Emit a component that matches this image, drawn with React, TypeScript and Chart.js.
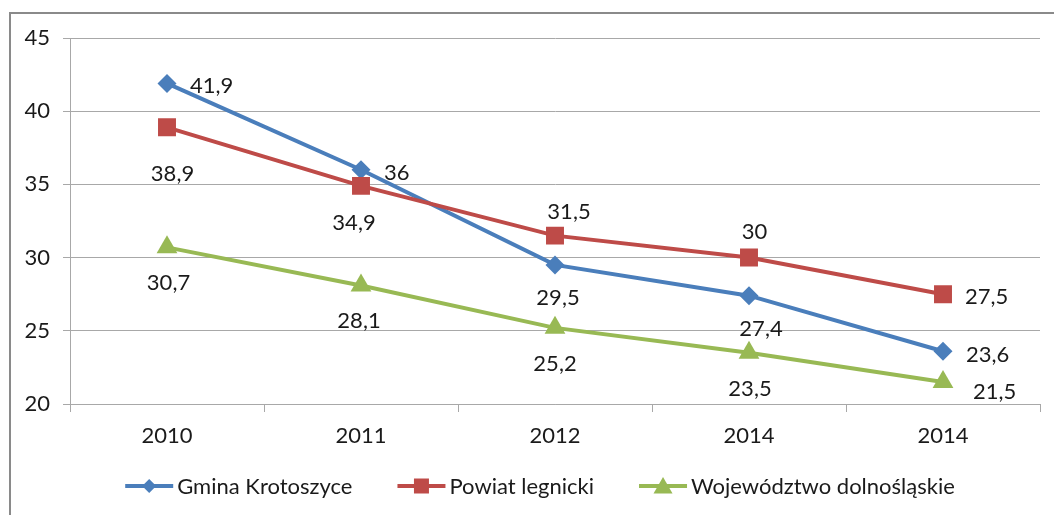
import React, { useEffect, useRef } from 'react';
import { Chart, registerables } from 'chart.js';

Chart.register(...registerables);

// ---- data ----
const categories = ['2010', '2011', '2012', '2014', '2014'];
const gminaKrotoszyce = [41.9, 36, 29.5, 27.4, 23.6];
const powiatLegnicki = [38.9, 34.9, 31.5, 30, 27.5];
const wojewodztwoDolnoslaskie = [30.7, 28.1, 25.2, 23.5, 21.5];
const seriesNames = ['Gmina Krotoszyce', 'Powiat legnicki', 'Województwo dolnośląskie'];
const yMin = 20;
const yMax = 45;
const yStep = 5;

// ---- label placement (offset from the point: [dx, dy, align]) ----
type Place = [number, number, 'left' | 'center'];
const labelPlacement: Place[][] = [
  [[23, 2, 'left'], [23, 2.5, 'left'], [3, 32, 'center'], [12, 32, 'center'], [23, 3, 'left']],
  [[5.5, 45.5, 'center'], [-7, 36.5, 'center'], [14, -25, 'center'], [5.5, -27, 'center'], [22, 2, 'left']],
  [[1.5, 35, 'center'], [-2, 35, 'center'], [0, 35, 'center'], [1, 35, 'center'], [30, 9.5, 'left']],
];

const FONT = 'Lato, "DejaVu Sans", sans-serif';
const FONT_SIZE = 22;
const TEXT = '#1a1a1a';
const GRID = '#a8a8a8';
const COLORS = ['#4A7EBB', '#BE4B48', '#98B954'];
const STYLES = ['rectRot', 'rect', 'triangle'];

function drawMarker(ctx: CanvasRenderingContext2D, style: string, x: number, y: number, r: number, color: string) {
  ctx.save();
  ctx.fillStyle = color;
  ctx.beginPath();
  if (style === 'rectRot') {
    ctx.moveTo(x - r, y);
    ctx.lineTo(x, y - r);
    ctx.lineTo(x + r, y);
    ctx.lineTo(x, y + r);
  } else if (style === 'rect') {
    ctx.rect(x - r, y - r, 2 * r, 2 * r);
  } else {
    const h = r * Math.sqrt(3);
    ctx.moveTo(x, y - h * 0.55);
    ctx.lineTo(x + r, y + h * 0.45);
    ctx.lineTo(x - r, y + h * 0.45);
  }
  ctx.closePath();
  ctx.fill();
  ctx.restore();
}

export default function App() {
  const ref = useRef<HTMLCanvasElement>(null);

  useEffect(() => {
    const canvas = ref.current;
    if (!canvas) return;

    const framePlugin = {
      id: 'frame',
      beforeDraw(chart: any) {
        const ctx = chart.ctx;
        ctx.save();
        ctx.fillStyle = '#ffffff';
        ctx.fillRect(0, 0, chart.width, chart.height);
        ctx.strokeStyle = '#8a8a8a';
        ctx.lineWidth = 2;
        ctx.strokeRect(10, 13, chart.width + 40, chart.height + 40);
        ctx.restore();
      },
    };

    const labelsPlugin = {
      id: 'valueLabels',
      afterDatasetsDraw(chart: any) {
        const ctx = chart.ctx;
        ctx.save();
        ctx.font = `${FONT_SIZE}px ${FONT}`;
        ctx.fillStyle = TEXT;
        ctx.textBaseline = 'alphabetic';
        chart.data.datasets.forEach((ds: any, di: number) => {
          const meta = chart.getDatasetMeta(di);
          meta.data.forEach((pt: any, i: number) => {
            const [dx, dy, align] = labelPlacement[di][i];
            const txt = String(ds.data[i]).replace('.', ',');
            ctx.textAlign = align;
            ctx.fillText(txt, pt.x + dx, pt.y + dy + FONT_SIZE * 0.36);
          });
        });
        ctx.restore();
      },
    };

    const legendPlugin = {
      id: 'customLegend',
      afterDraw(chart: any) {
        const ctx = chart.ctx;
        ctx.save();
        ctx.font = `${FONT_SIZE}px ${FONT}`;
        const lineLen = 48;
        const gapText = 4;
        const gapItem = 45;
        const widths = seriesNames.map((n) => ctx.measureText(n).width);
        const total = widths.reduce((a, w) => a + lineLen + gapText + w, 0) + gapItem * (seriesNames.length - 1);
        let x = 540 - total / 2;
        const y = 486;
        const markerR = [7, 7.5, 9.5];
        seriesNames.forEach((name, i) => {
          ctx.strokeStyle = COLORS[i];
          ctx.lineWidth = 4;
          ctx.beginPath();
          ctx.moveTo(x, y);
          ctx.lineTo(x + lineLen, y);
          ctx.stroke();
          drawMarker(ctx, STYLES[i], x + lineLen / 2, y, markerR[i], COLORS[i]);
          ctx.fillStyle = TEXT;
          ctx.textAlign = 'left';
          ctx.textBaseline = 'alphabetic';
          ctx.fillText(name, x + lineLen + gapText, y + FONT_SIZE * 0.36);
          x += lineLen + gapText + widths[i] + gapItem;
        });
        ctx.restore();
      },
    };

    const seriesData = [gminaKrotoszyce, powiatLegnicki, wojewodztwoDolnoslaskie];
    const radii = [9.5, 12.7, 12];

    const chart = new Chart(canvas, {
      type: 'line',
      data: {
        labels: categories,
        datasets: seriesData.map((d, i) => ({
          label: seriesNames[i],
          data: d,
          borderColor: COLORS[i],
          backgroundColor: COLORS[i],
          borderWidth: 4,
          tension: 0,
          pointStyle: STYLES[i] as any,
          pointRadius: radii[i],
          pointHoverRadius: radii[i],
          pointBackgroundColor: COLORS[i],
          pointBorderColor: COLORS[i],
          pointBorderWidth: 0,
          order: 3 - i,
        })),
      },
      options: {
        responsive: false,
        animation: false,
        layout: { padding: { top: 38, left: 0, right: 14, bottom: 0 } },
        plugins: {
          legend: { display: false },
          tooltip: { enabled: false },
        },
        scales: {
          x: {
            type: 'category',
            offset: true,
            grid: {
              offset: true,
              drawOnChartArea: false,
              drawTicks: true,
              tickLength: 8,
              color: GRID,
            },
            border: { display: true, color: GRID, width: 1 },
            ticks: {
              color: TEXT,
              font: { family: FONT, size: FONT_SIZE },
              padding: 11,
              maxRotation: 0,
              autoSkip: false,
            },
            afterFit(scale: any) {
              scale.height = 111;
            },
          },
          y: {
            min: yMin,
            max: yMax,
            ticks: {
              stepSize: yStep,
              color: TEXT,
              font: { family: FONT, size: FONT_SIZE },
              padding: 13,
            },
            grid: {
              color: GRID,
              tickLength: 7,
              drawTicks: true,
            },
            border: { display: true, color: GRID, width: 1 },
            afterFit(scale: any) {
              scale.width = 70;
            },
          },
        },
      },
      plugins: [framePlugin, labelsPlugin, legendPlugin],
    });

    return () => chart.destroy();
  }, []);

  return (
    <div style={{ position: 'fixed', left: 0, top: 0, width: 1054, height: 515, background: '#fff', overflow: 'hidden' }}>
      <canvas ref={ref} width={1054} height={515} style={{ display: 'block', width: 1054, height: 515 }} />
    </div>
  );
}
